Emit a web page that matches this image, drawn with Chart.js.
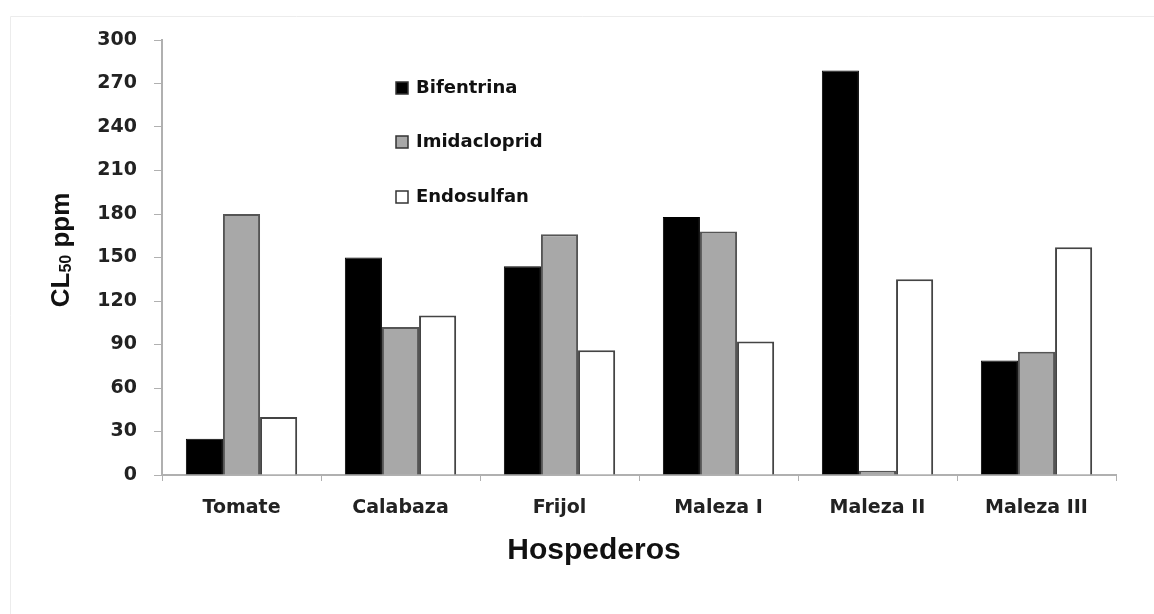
<!DOCTYPE html>
<html lang="es">
  <head>
    <meta charset="UTF-8" />
    <title>CL50 por hospedero</title>
    <style>
      html, body {
        margin: 0;
        padding: 0;
        background: #fff;
      }
      #wrap {
        position: relative;
        width: 1154px;
        height: 614px;
      }
    </style>
  </head>
  <body>
    <div id="wrap">
      <canvas id="barChart" width="1154" height="614"></canvas>
    </div>

    <script src="https://cdn.jsdelivr.net/npm/chart.js@4/dist/chart.umd.min.js"></script>
    <script>
      // valores
      const hospederos = ["Tomate", "Calabaza", "Frijol", "Maleza I", "Maleza II", "Maleza III"];
      const bifentrina = [25, 150, 144, 178, 279, 79];
      const imidacloprid = [180, 102, 166, 168, 3, 85];
      const endosulfan = [40, 110, 86, 92, 135, 157];
      const yTicks = [0, 30, 60, 90, 120, 150, 180, 210, 240, 270, 300];

      const tickFont = { family: "DejaVu Sans", weight: "bold", size: 19 };

      // leyenda dentro del area y titulos de ejes
      const extras = {
        id: "extras",
        afterDraw(chart) {
          const ctx = chart.ctx;
          ctx.save();

          // marco tenue
          ctx.strokeStyle = "#ececec";
          ctx.lineWidth = 1;
          ctx.beginPath();
          ctx.moveTo(10.5, 614);
          ctx.lineTo(10.5, 16.5);
          ctx.lineTo(1154, 16.5);
          ctx.stroke();

          // leyenda
          const rows = [88, 142, 197];
          chart.data.datasets.forEach((ds, i) => {
            const y = rows[i];
            ctx.fillStyle = ds.backgroundColor;
            ctx.fillRect(396, y - 6, 12, 12);
            ctx.strokeStyle = "#333";
            ctx.lineWidth = 1.5;
            ctx.strokeRect(396, y - 6, 12, 12);
            ctx.fillStyle = "#111";
            ctx.font = "bold 18px 'DejaVu Sans'";
            ctx.textBaseline = "middle";
            ctx.textAlign = "left";
            ctx.fillText(ds.label, 416, y);
          });

          // titulo eje x
          ctx.fillStyle = "#111";
          ctx.font = "bold 30px 'Liberation Sans'";
          ctx.textAlign = "center";
          ctx.textBaseline = "middle";
          ctx.fillText("Hospederos", 594, 551);

          // titulo eje y: CL50 ppm
          ctx.translate(60, 250);
          ctx.rotate(-Math.PI / 2);
          const big = "bold 26px 'Liberation Sans'";
          const small = "bold 16px 'Liberation Sans'";
          ctx.font = big;
          const wCL = ctx.measureText("CL").width;
          const wPpm = ctx.measureText(" ppm").width;
          ctx.font = small;
          const w50 = ctx.measureText("50").width;
          let x = -(wCL + w50 + wPpm) / 2;
          ctx.textAlign = "left";
          ctx.textBaseline = "alphabetic";
          ctx.font = big;
          ctx.fillText("CL", x, 9);
          x += wCL;
          ctx.font = small;
          ctx.fillText("50", x, 11);
          x += w50;
          ctx.font = big;
          ctx.fillText(" ppm", x, 9);

          ctx.restore();
        },
      };

      new Chart("barChart", {
        type: "bar",
        data: {
          labels: hospederos,
          datasets: [
            {
              label: "Bifentrina",
              data: bifentrina,
              backgroundColor: "#000000",
              borderColor: "#000000",
              borderWidth: 1,
            },
            {
              label: "Imidacloprid",
              data: imidacloprid,
              backgroundColor: "#a8a8a8",
              borderColor: "#555555",
              borderWidth: 2,
            },
            {
              label: "Endosulfan",
              data: endosulfan,
              backgroundColor: "#ffffff",
              borderColor: "#444444",
              borderWidth: 2,
            },
          ],
        },
        options: {
          responsive: false,
          animation: false,
          layout: { padding: { left: 0, right: 38, top: 40, bottom: 0 } },
          plugins: {
            legend: { display: false },
            tooltip: { enabled: false },
          },
          datasets: {
            bar: { categoryPercentage: 0.7, barPercentage: 1 },
          },
          scales: {
            x: {
              grid: {
                drawOnChartArea: false,
                tickLength: 6,
                color: "#b0b0b0",
              },
              border: { color: "#b0b0b0", width: 2 },
              ticks: { font: tickFont, color: "#222", padding: 16 },
              afterFit(scale) {
                scale.height = 139;
              },
            },
            y: {
              min: 0,
              max: 300,
              afterBuildTicks(scale) {
                scale.ticks = yTicks.map((v) => ({ value: v }));
              },
              grid: {
                drawOnChartArea: false,
                tickLength: 8,
                color: "#b0b0b0",
              },
              border: { color: "#b0b0b0", width: 2 },
              ticks: { font: tickFont, color: "#222", padding: 17 },
              afterFit(scale) {
                scale.width = 162;
              },
            },
          },
        },
        plugins: [extras],
      });
    </script>
  </body>
</html>
